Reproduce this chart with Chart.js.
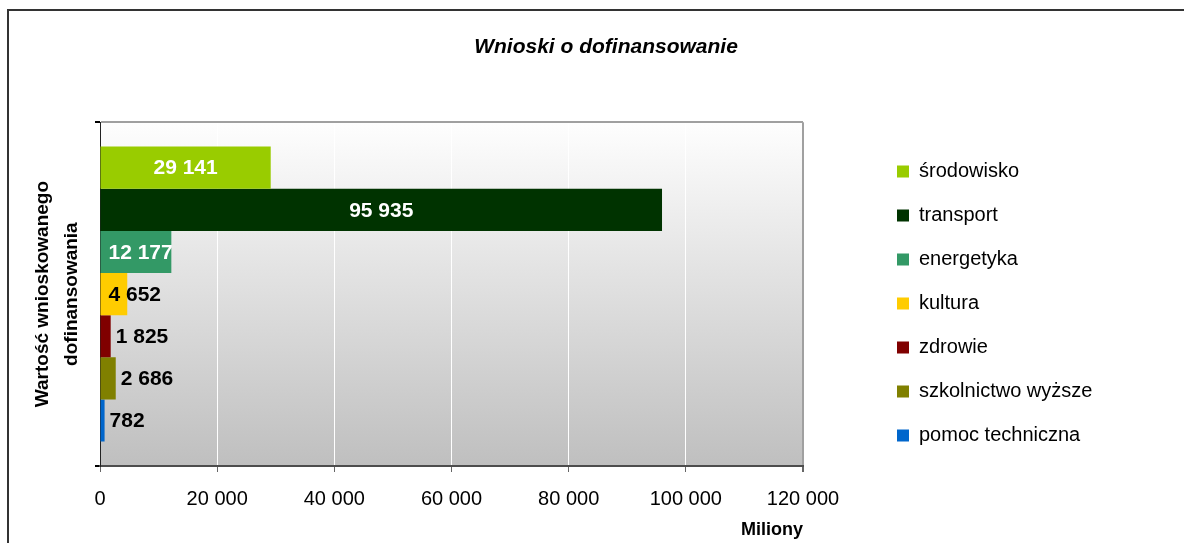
<!DOCTYPE html>
<html>
<head>
<meta charset="utf-8">
<script src="https://cdn.jsdelivr.net/npm/chart.js@4"></script>
<style>
  html, body { margin: 0; padding: 0; background: #fff; overflow: hidden; }
  #frame { position: absolute; left: 7px; top: 9px; width: 1300px; height: 700px;
           border-left: 2px solid #333; border-top: 2px solid #333; }
  #wykres { position: absolute; left: 0; top: 0; }
</style>
</head>
<body>
<div id="frame"></div>
<canvas id="wykres" width="1184" height="543"></canvas>
<script>
// dane
const kategorie = [''];
const sektory = ['środowisko', 'transport', 'energetyka', 'kultura', 'zdrowie', 'szkolnictwo wyższe', 'pomoc techniczna'];
const wartosci = [29141, 95935, 12177, 4652, 1825, 2686, 782];
const kolory = ['#99cc00', '#003300', '#339966', '#ffcc00', '#800000', '#808000', '#0066cc'];
const kolorEtykiet = ['#fff', '#fff', '#fff', '#000', '#000', '#000', '#000'];
const miejsceEtykiet = ['center', 'center', 'base', 'base', 'end', 'end', 'end'];
const osX = [0, 20000, 40000, 60000, 80000, 100000, 120000];

const FONT = '"Liberation Sans", Arial, sans-serif';
Chart.defaults.font.family = FONT;
Chart.defaults.color = '#000';

function formatuj(v) {
  return String(v).replace(/\B(?=(\d{3})+(?!\d))/g, ' ');
}

// tlo obszaru wykresu (gradient jak w Excelu)
const tloWykresu = {
  id: 'tloWykresu',
  beforeDraw(chart) {
    const {ctx, chartArea: a} = chart;
    const g = ctx.createLinearGradient(0, a.top, 0, a.bottom);
    g.addColorStop(0, '#fefefe');
    g.addColorStop(1, '#bfbfbf');
    ctx.save();
    ctx.fillStyle = g;
    ctx.fillRect(a.left, a.top, a.right - a.left, a.bottom - a.top);
    ctx.restore();
  }
};

// etykiety z wartosciami
const etykiety = {
  id: 'etykiety',
  afterDatasetsDraw(chart) {
    const ctx = chart.ctx;
    ctx.save();
    ctx.font = 'bold 21px ' + FONT;
    ctx.textBaseline = 'middle';
    ctx.textAlign = 'left';
    chart.data.datasets.forEach((ds, i) => {
      const bar = chart.getDatasetMeta(i).data[0];
      const txt = formatuj(ds.data[0]);
      const w = ctx.measureText(txt).width;
      let x;
      if (miejsceEtykiet[i] === 'center') x = (bar.base + bar.x) / 2 - w / 2;
      else if (miejsceEtykiet[i] === 'base') x = bar.base + 8;
      else x = bar.x + 5;
      ctx.fillStyle = kolorEtykiet[i];
      ctx.fillText(txt, x, bar.y + 1);
    });
    ctx.restore();
  }
};

const datasets = sektory.map((s, i) => ({
  label: s,
  data: [wartosci[i]],
  backgroundColor: kolory[i],
  borderWidth: 0,
  barPercentage: 1,
  categoryPercentage: 0.858
}));

new Chart(document.getElementById('wykres'), {
  type: 'bar',
  data: { labels: kategorie, datasets: datasets },
  options: {
    indexAxis: 'y',
    responsive: false,
    animation: false,
    layout: { padding: { left: 28, right: 0, top: 0, bottom: 2 } },
    plugins: {
      tooltip: { enabled: false },
      title: {
        display: true,
        text: 'Wnioski o dofinansowanie',
        font: { size: 21, weight: 'bold', style: 'italic' },
        padding: { top: 35, bottom: 62 },
        color: '#000'
      },
      legend: {
        position: 'right',
        align: 'center',
        fullSize: true,
        maxWidth: 400,
        title: { display: true, text: '', font: { size: 10 }, padding: 27 },
        labels: {
          boxWidth: 12,
          boxHeight: 12,
          padding: 24,
          font: { size: 20 },
          color: '#000'
        }
      }
    },
    scales: {
      x: {
        type: 'linear',
        min: osX[0],
        max: osX[osX.length - 1],
        afterBuildTicks(s) { s.ticks = osX.map(v => ({value: v})); },
        ticks: {
          font: { size: 20 },
          padding: 15.5,
          color: '#000',
          callback: v => formatuj(v)
        },
        grid: {
          color: c => c.tick.value === 0 ? 'rgba(0,0,0,0)' : (c.tick.value === 120000 ? '#a0a0a0' : '#ffffff'),
          lineWidth: c => c.tick.value === 120000 ? 2 : 1,
          tickColor: '#666',
          tickLength: 6
        },
        border: { display: true, color: '#4d4d4d', width: 2 },
        title: {
          display: true,
          text: 'Miliony',
          align: 'end',
          font: { size: 18, weight: 'bold', lineHeight: 0.333 },
          padding: { top: 0, bottom: 8 }
        }
      },
      y: {
        type: 'category',
        ticks: { display: false },
        grid: {
          color: c => c.index === 0 ? '#a0a0a0' : '#4d4d4d',
          lineWidth: 2,
          tickColor: '#000',
          tickLength: 5
        },
        border: { display: true, color: '#222', width: 1 },
        title: {
          display: true,
          text: ['Wartość wnioskowanego', 'dofinansowania'],
          font: { size: 19, weight: 'bold', lineHeight: 1.5 },
          padding: { top: 1, bottom: 9 }
        }
      },
      // odstep miedzy obszarem wykresu a legenda
      y2: {
        type: 'category',
        position: 'right',
        ticks: { display: false },
        grid: { display: false },
        border: { display: false },
        afterFit(s) { s.width = 70; }
      },
      // miejsce na prawo od legendy
      y3: {
        type: 'category',
        position: 'right',
        weight: 2000,
        ticks: { display: false },
        grid: { display: false },
        border: { display: false },
        afterFit(s) { s.width = Math.max(0, s.chart.width - 803 - 70 - s.chart.legend.width); }
      }
    }
  },
  plugins: [tloWykresu, etykiety]
});
</script>
</body>
</html>
